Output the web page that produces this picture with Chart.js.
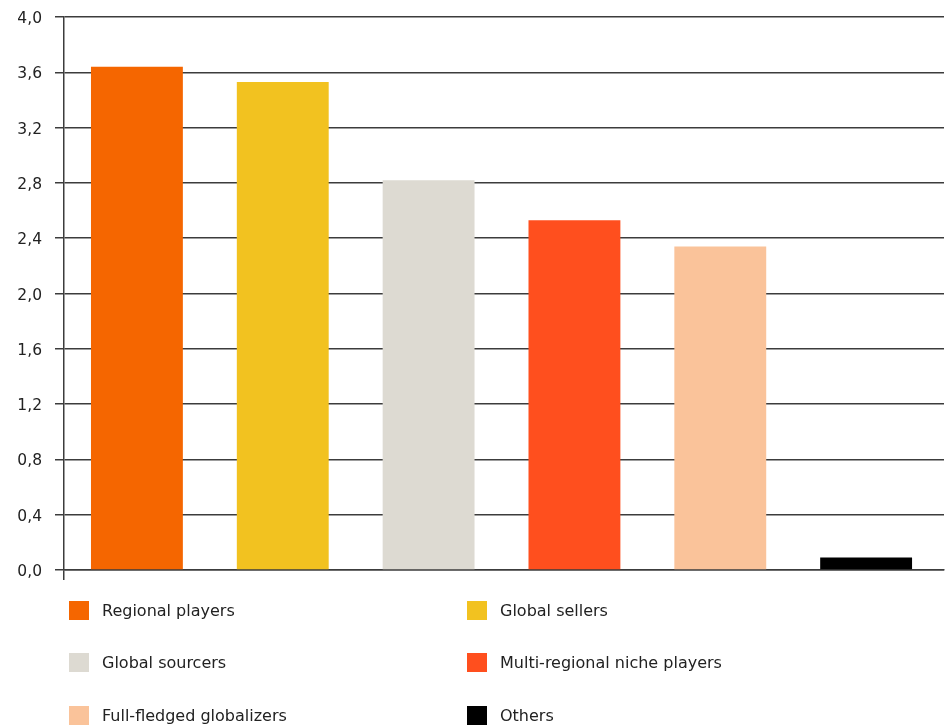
<!DOCTYPE html>
<html>
<head>
<meta charset="utf-8">
<script src="https://cdn.jsdelivr.net/npm/chart.js@4/dist/chart.umd.min.js"></script>
<style>
  html, body { margin: 0; padding: 0; background: #fff; }
  #wrap { position: relative; width: 947px; height: 727px; }
  #chart { position: absolute; left: 0; top: 0; }
  #legend { position: absolute; left: 0; top: 0; width: 947px; height: 727px; pointer-events: none;
            font-family: Verdana, "DejaVu Sans", sans-serif; font-size: 16px; color: #222; }
  .item { position: absolute; display: flex; align-items: center; height: 20px; }
  .sw { width: 20px; height: 19px; margin-right: 13px; }
</style>
</head>
<body>
<div id="wrap">
  <canvas id="chart" width="947" height="590"></canvas>
  <div id="legend"></div>
</div>
<script>
// Segments and their scores
const categories = [
  "Regional players",
  "Global sellers",
  "Global sourcers",
  "Multi-regional niche players",
  "Full-fledged globalizers",
  "Others"
];
const values = [3.64, 3.53, 2.82, 2.53, 2.34, 0.09];
const colors = ["#F56600", "#F2C220", "#DDDAD2", "#FF4F1E", "#FAC39A", "#000000"];
const yTicks = [0, 0.4, 0.8, 1.2, 1.6, 2.0, 2.4, 2.8, 3.2, 3.6, 4.0];

const axisColor = "#3c3c3c";

new Chart(document.getElementById("chart"), {
  type: "bar",
  data: {
    labels: categories,
    datasets: [{
      data: values,
      backgroundColor: colors,
      borderWidth: 0,
      barPercentage: 0.63,
      categoryPercentage: 1.0
    }]
  },
  options: {
    responsive: false,
    animation: false,
    devicePixelRatio: 1,
    layout: { padding: { top: 17, right: 3, bottom: 10, left: 0 } },
    plugins: { legend: { display: false }, tooltip: { enabled: false } },
    scales: {
      x: {
        ticks: { display: false },
        // leave a little empty room after the last category
        afterBuildTicks: (s) => { s._valueRange += 0.034; },
        grid: {
          display: true,
          drawOnChartArea: false,
          drawTicks: true,
          tickLength: 10,
          color: (ctx) => ctx.index === 0 ? axisColor : "rgba(0,0,0,0)",
          lineWidth: 1.5
        },
        border: { display: true, color: axisColor, width: 1.5 },
        afterFit: (s) => { s.height = 10; }
      },
      y: {
        min: 0,
        max: 4,
        afterBuildTicks: (s) => { s.ticks = yTicks.map(v => ({ value: v })); },
        ticks: {
          padding: 13,
          labelOffset: 2,
          color: "#222",
          font: { family: "Verdana, 'DejaVu Sans', sans-serif", size: 15.5 },
          callback: (v) => Number(v).toFixed(1).replace(".", ",")
        },
        grid: {
          color: axisColor,
          lineWidth: 1.5,
          tickLength: 9
        },
        border: { display: true, color: axisColor, width: 1.5 },
        afterFit: (s) => { s.width = 64; s.paddingTop = 9; s.paddingBottom = 9; }
      }
    }
  }
});

// Two-column legend below the plot
const legend = document.getElementById("legend");
categories.forEach((name, i) => {
  const col = i % 2, row = Math.floor(i / 2);
  const el = document.createElement("div");
  el.className = "item";
  el.style.left = (col === 0 ? 69 : 467) + "px";
  el.style.top = (600 + row * 52.5) + "px";
  const sw = document.createElement("span");
  sw.className = "sw";
  sw.style.background = colors[i];
  const tx = document.createElement("span");
  tx.textContent = name;
  el.appendChild(sw);
  el.appendChild(tx);
  legend.appendChild(el);
});
</script>
</body>
</html>
